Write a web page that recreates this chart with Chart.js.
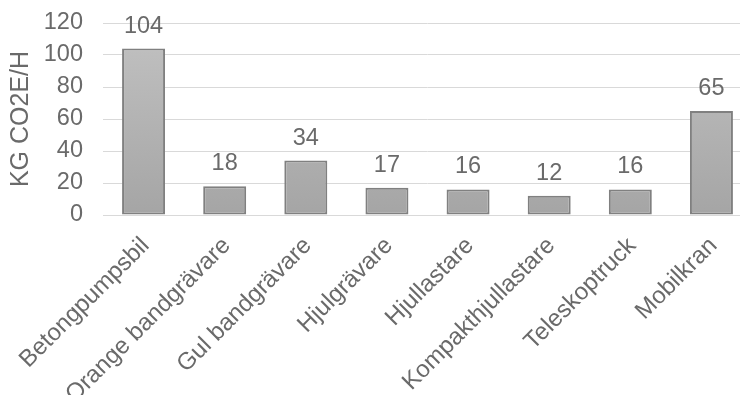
<!DOCTYPE html>
<html>
<head>
<meta charset="utf-8">
<script src="https://cdn.jsdelivr.net/npm/chart.js@4/dist/chart.umd.min.js"></script>
<style>
  html, body { margin:0; padding:0; background:#fff; overflow:hidden; }
  #wrap { width:740px; height:395px; overflow:hidden; position:relative; }
  #box { width:752px; height:395px; position:absolute; left:0; top:0; }
</style>
</head>
<body>
<div id="wrap"><div id="box"><canvas id="c"></canvas></div></div>
<script>
// machine emissions, kg CO2e per hour
var categories = ['Betongpumpsbil','Orange bandgrävare','Gul bandgrävare','Hjulgrävare','Hjullastare','Kompakthjullastare','Teleskoptruck','Mobilkran'];
var emissions = [104, 18, 34, 17, 16, 12, 16, 65];
var yTicks = [0, 20, 40, 60, 80, 100, 120];
var yTitle = 'KG CO2E/H';

var grey = '#6a6a6a';
var font = 'Liberation Sans, Arial, sans-serif';

// value labels above the bars + slanted category names
var barLabels = {
  id: 'barLabels',
  afterDatasetsDraw: function(chart){
    var ctx = chart.ctx;
    var meta = chart.getDatasetMeta(0);
    var xs = chart.scales.x;
    ctx.save();
    ctx.font = '23.5px ' + font;
    ctx.fillStyle = grey;
    ctx.textAlign = 'center';
    ctx.textBaseline = 'alphabetic';
    meta.data.forEach(function(bar, i){
      ctx.fillText(String(emissions[i]), bar.x, bar.y - 16);
    });
    ctx.font = '24px ' + font;
    ctx.textAlign = 'right';
    ctx.textBaseline = 'middle';
    categories.forEach(function(name, i){
      ctx.save();
      ctx.translate(xs.getPixelForValue(i) + 2, xs.top + 27);
      ctx.rotate(-Math.PI / 4);
      ctx.fillText(name, 0, 0);
      ctx.restore();
    });
    ctx.restore();
  }
};

function barFill(context){
  var area = context.chart.chartArea;
  if(!area) return '#b3b3b3';
  var g = context.chart.ctx.createLinearGradient(0, area.top, 0, area.bottom);
  g.addColorStop(0, '#c2c2c2');
  g.addColorStop(1, '#a5a5a5');
  return g;
}

new Chart(document.getElementById('c'), {
  type: 'bar',
  data: {
    labels: categories,
    datasets: [{
      data: emissions,
      backgroundColor: barFill,
      borderColor: '#808080',
      borderWidth: 2,
      borderSkipped: false,
      barPercentage: 0.53,
      categoryPercentage: 1
    }]
  },
  options: {
    responsive: true,
    maintainAspectRatio: false,
    animation: false,
    layout: { padding: { top: 23, right: 0, left: 0, bottom: 0 } },
    plugins: { legend: { display: false }, tooltip: { enabled: false } },
    scales: {
      x: {
        grid: { display: false, drawTicks: false },
        border: { color: '#d9d9d9', width: 1 },
        ticks: { display: false },
        afterFit: function(s){ s.height = 180; }
      },
      y: {
        min: 0, max: 120,
        afterBuildTicks: function(s){ s.ticks = yTicks.map(function(v){ return { value: v }; }); },
        grid: { color: '#d9d9d9', lineWidth: 1, drawTicks: false },
        border: { display: false },
        ticks: { color: grey, font: { family: font, size: 23.5 }, padding: 20, autoSkip: false },
        title: { display: true, text: yTitle, color: grey, font: { family: font, size: 25 }, padding: { top: 6, bottom: 0 } },
        afterFit: function(s){ s.width = 103; s.paddingTop = 0; s.paddingBottom = 0; }
      }
    }
  },
  plugins: [barLabels]
});
</script>
</body>
</html>
